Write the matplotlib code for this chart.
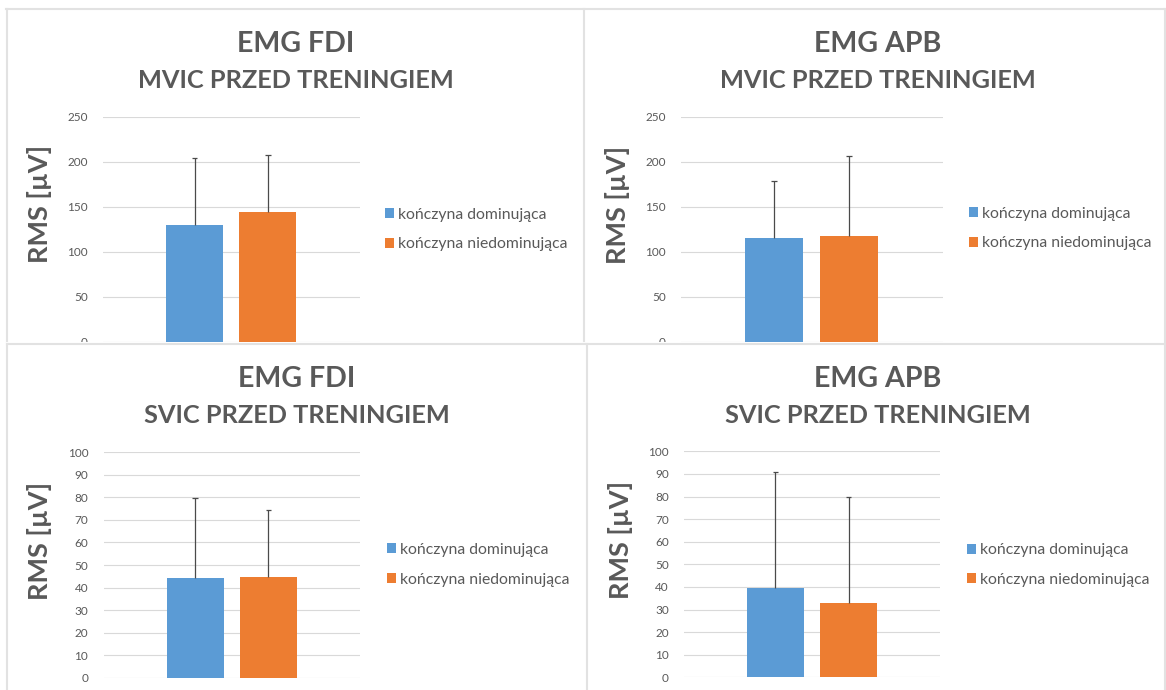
import matplotlib.pyplot as plt
from matplotlib.lines import Line2D
from matplotlib.patches import Rectangle

plt.rcParams['font.family'] = ['Lato', 'DejaVu Sans']

# dane: srednie RMS i odchylenia (tylko w gore)
kategorie = ['kończyna dominująca', 'kończyna niedominująca']
kolory = ['#5B9BD5', '#ED7D31']

fdi_mvic = [129.5, 143.8]
fdi_mvic_sd = [74.2, 63.3]
apb_mvic = [115.6, 117.0]
apb_mvic_sd = [62.9, 89.0]
fdi_svic = [44.1, 44.8]
fdi_svic_sd = [35.5, 29.6]
apb_svic = [39.4, 32.9]
apb_svic_sd = [51.3, 47.0]

szary = '#595959'
W, H = 1166, 690
fig = plt.figure(figsize=(W / 100, H / 100), dpi=100)


def px(x0, y0, x1, y1):
    return [x0 / W, 1 - y1 / H, (x1 - x0) / W, (y1 - y0) / H]


def wykres(rect, srednie, sd, ymax, krok, t1, t2, tx, b1, b2, lx, ly, legx, legy, z):
    ax = fig.add_axes(px(*rect), zorder=z)
    pozycje = [-0.143, 0.143]
    for i in range(2):
        ax.bar(pozycje[i], srednie[i], width=0.222, color=kolory[i],
               label=kategorie[i], zorder=2)
        # slupek bledu tylko do gory
        ax.vlines(pozycje[i], srednie[i], srednie[i] + sd[i], color='#4a4a4a',
                  lw=0.9, zorder=3)
        ax.hlines(srednie[i] + sd[i], pozycje[i] - 0.011, pozycje[i] + 0.011,
                  color='#4a4a4a', lw=0.9, zorder=3)
    ax.set_xlim(-0.5, 0.5)
    ax.set_ylim(0, ymax)
    ax.set_yticks(range(0, ymax + 1, krok))
    ax.set_xticks([])
    ax.grid(axis='y', color='#d9d9d9', lw=0.8, zorder=0)
    ax.set_axisbelow(True)
    for s in ax.spines.values():
        s.set_visible(False)
    ax.tick_params(axis='y', length=0, pad=11, labelsize=8.5, labelcolor=szary)
    ax.legend(loc='center left', bbox_to_anchor=(legx / W, 1 - legy / H),
              bbox_transform=fig.transFigure, frameon=False, fontsize=11.3,
              handlelength=0.6, handleheight=0.6, handletextpad=0.25,
              labelspacing=1.0, borderpad=0, borderaxespad=0, labelcolor=szary)
    fig.text(tx / W, 1 - b1 / H, t1, ha='center', va='baseline', fontsize=20.6,
             weight='bold', color=szary, zorder=z + 1)
    fig.text(tx / W, 1 - b2 / H, t2, ha='center', va='baseline', fontsize=18.3,
             weight='bold', color=szary, zorder=z + 1)
    fig.text(lx / W, 1 - ly / H, 'RMS [µV]', rotation=90, ha='center', va='center',
             fontsize=19.5, weight='bold', color=szary, zorder=z + 1)
    return ax


wykres((103, 116.7, 359.5, 341.7), fdi_mvic, fdi_mvic_sd, 250, 50,
       'EMG FDI', 'MVIC PRZED TRENINGIEM', 295.5, 52.3, 88.3, 39.5, 204, 384.5, 229.5, 0)
wykres((681, 116.7, 942.5, 341.7), apb_mvic, apb_mvic_sd, 250, 50,
       'EMG APB', 'MVIC PRZED TRENINGIEM', 878, 52.3, 88.3, 618, 204.5, 968.6, 228.5, 0)

# dolna polowa przykrywa dol gornych wykresow
fig.patches.append(Rectangle((0, 0), 1, 1 - 342 / H, transform=fig.transFigure,
                             facecolor='white', edgecolor='none', zorder=1))

wykres((103.5, 452.3, 360, 677.7), fdi_svic, fdi_svic_sd, 100, 10,
       'EMG FDI', 'SVIC PRZED TRENINGIEM', 297, 386.7, 422.7, 40, 540.8, 386.8, 564.8, 2)
wykres((684, 451.3, 940, 677.3), apb_svic, apb_svic_sd, 100, 10,
       'EMG APB', 'SVIC PRZED TRENINGIEM', 878, 386.7, 422.5, 620, 540, 966.8, 565, 2)

# ramki paneli
ramki = [((6, 1166), (9, 9)), ((6.5, 6.5), (9, 341)), ((584, 584), (9, 341)),
         ((7, 1166), (344, 344)), ((7.3, 7.3), (344, 690)), ((587, 587), (344, 690)),
         ((1165, 1165), (9, 690))]
for xs, ys in ramki:
    fig.add_artist(Line2D([x / W for x in xs], [1 - y / H for y in ys],
                          color='#e2e2e2', lw=1.5, zorder=5))

fig.savefig('out.png', dpi=100)
